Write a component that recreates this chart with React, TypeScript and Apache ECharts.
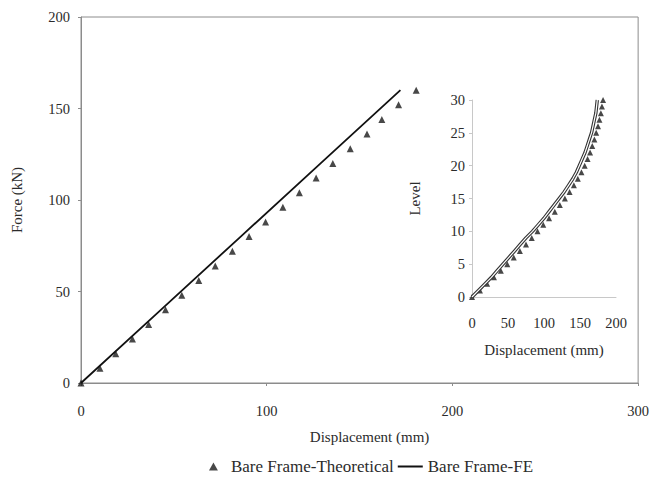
import React, { useEffect, useRef } from "react";
import * as echarts from "echarts";

// Main chart: force (kN) vs displacement (mm)
const theoForce = [0, 8, 16, 24, 32, 40, 48, 56, 64, 72, 80, 88, 96, 104, 112, 120, 128, 136, 144, 152, 160];
const theoDisp = [0, 10.2, 18.7, 27.7, 36.4, 45.5, 54.3, 63.4, 72.3, 81.5, 90.5, 99.4, 108.7, 117.6, 126.6, 135.6, 145, 154, 162, 171, 180.5];
const feDisp = [0, 43, 86, 129, 172];
const feForce = [0, 40, 80, 120, 160];

// Inset: level vs displacement (mm)
const levels = [0, 1, 2, 3, 4, 5, 6, 7, 8, 9, 10, 11, 12, 13, 14, 15, 16, 17, 18, 19, 20, 21, 22, 23, 24, 25, 26, 27, 28, 29, 30];
const insetTheoDisp = [0, 11, 21, 30.5, 40, 49, 58, 66.5, 75, 83, 91, 99, 107, 115, 122, 129, 135.5, 141.5, 147, 152, 156.5, 160.5, 164, 167, 170, 172.5, 175, 177, 179, 180.5, 182];
const insetFeDisp = [0, 9, 18, 27, 35, 43, 51, 59, 67, 75, 84, 92, 100, 107, 114, 121, 128, 134, 140, 145, 149, 153, 157, 160, 163, 166, 168, 170, 172, 173, 174];

const FONT = "Liberation Serif";
const TXT = "#2b2b2b";
const AXIS = "#8c8c8c";

export default function App() {
  const ref = useRef<HTMLDivElement>(null);
  useEffect(() => {
    if (!ref.current) return;
    const chart = echarts.init(ref.current, undefined, { renderer: "svg" });
    const pair = (xs: number[], ys: number[]) => xs.map((x, i) => [x, ys[i]]);
    chart.setOption({
      animation: false,
      backgroundColor: "#ffffff",
      textStyle: { fontFamily: FONT, color: TXT },
      legend: {
        data: [
          { name: "Bare Frame-Theoretical", icon: "path://M5,0L10,9L0,9Z" },
          { name: "Bare Frame-FE", icon: "path://M0,0L25,0L25,2L0,2Z" },
        ],
        symbolKeepAspect: true,
        left: 204,
        top: 453,
        itemWidth: 25,
        itemHeight: 8,
        itemGap: 4,
        textStyle: { fontFamily: FONT, fontSize: 17, color: TXT },
      },
      grid: [
        { left: 81, right: 11, top: 17, bottom: 100, show: true, borderColor: AXIS, borderWidth: 1 },
        { left: 472, right: 36, top: 100, bottom: 186 },
      ],
      xAxis: [
        {
          gridIndex: 0, type: "value", min: 0, max: 300, interval: 100,
          name: "Displacement (mm)", nameLocation: "middle", nameGap: 46,
          nameTextStyle: { fontFamily: FONT, fontSize: 15, color: TXT, padding: [0, 0, 0, 20] },
          axisLine: { lineStyle: { color: AXIS } },
          axisTick: { show: true, length: 3, lineStyle: { color: AXIS } },
          axisLabel: { margin: 20, fontFamily: FONT, fontSize: 14.5, color: TXT },
          splitLine: { show: false },
        },
        {
          gridIndex: 1, type: "value", min: 0, max: 200, interval: 50,
          name: "Displacement (mm)", nameLocation: "middle", nameGap: 45,
          nameTextStyle: { fontFamily: FONT, fontSize: 15, color: TXT },
          axisLine: { lineStyle: { color: "#c8c8c8" } },
          axisTick: { show: false },
          axisLabel: { margin: 18, fontFamily: FONT, fontSize: 14.5, color: TXT },
          splitLine: { show: false },
        },
      ],
      yAxis: [
        {
          gridIndex: 0, type: "value", min: 0, max: 200, interval: 50,
          name: "Force (kN)", nameLocation: "middle", nameGap: 57,
          nameTextStyle: { fontFamily: FONT, fontSize: 15, color: TXT },
          axisLine: { show: true, lineStyle: { color: AXIS } },
          axisTick: { show: true, length: 3, lineStyle: { color: AXIS } },
          axisLabel: { margin: 11, fontFamily: FONT, fontSize: 14.5, color: TXT },
          splitLine: { show: false },
        },
        {
          gridIndex: 1, type: "value", min: 0, max: 30, interval: 5,
          name: "Level", nameLocation: "middle", nameGap: 50,
          nameTextStyle: { fontFamily: FONT, fontSize: 15, color: TXT },
          axisLine: { show: true, lineStyle: { color: "#c8c8c8" } },
          axisTick: { show: true, length: 3, lineStyle: { color: "#c8c8c8" } },
          axisLabel: { margin: 7, fontFamily: FONT, fontSize: 14.5, color: TXT },
          splitLine: { show: false },
        },
      ],
      series: [
        {
          name: "Bare Frame-FE", type: "line", xAxisIndex: 0, yAxisIndex: 0,
          data: pair(feDisp, feForce), showSymbol: false, symbol: "none",
          lineStyle: { color: "#111", width: 1.8 }, itemStyle: { color: "#111" },
        },
        {
          name: "Bare Frame-Theoretical", type: "scatter", xAxisIndex: 0, yAxisIndex: 0,
          data: pair(theoDisp, theoForce), symbol: "triangle", symbolSize: 7,
          itemStyle: { color: "#1a1a1a" },
        },
        {
          name: "inset-fe-outline", type: "line", xAxisIndex: 1, yAxisIndex: 1,
          data: pair(insetFeDisp, levels), showSymbol: false, symbol: "none",
          lineStyle: { color: "#333", width: 3.4 },
        },
        {
          name: "inset-fe-core", type: "line", xAxisIndex: 1, yAxisIndex: 1,
          data: pair(insetFeDisp, levels), showSymbol: false, symbol: "none",
          lineStyle: { color: "#ffffff", width: 1.2 },
        },
        {
          name: "inset-theo", type: "scatter", xAxisIndex: 1, yAxisIndex: 1,
          data: pair(insetTheoDisp, levels), symbol: "triangle", symbolSize: 6,
          itemStyle: { color: "#1a1a1a" },
        },
      ],
    });
    return () => chart.dispose();
  }, []);
  return (
    <div
      ref={ref}
      style={{ position: "fixed", left: 0, top: 0, width: 652, height: 483, background: "#fff" }}
    />
  );
}
